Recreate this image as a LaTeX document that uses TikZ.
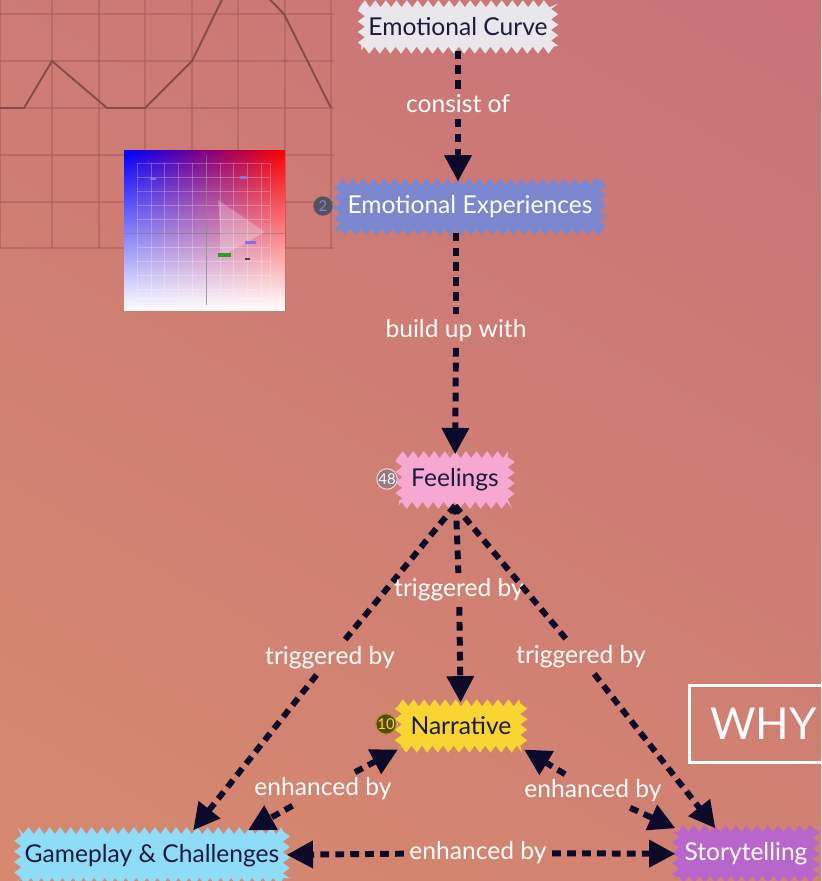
\documentclass[tikz,border=0pt]{standalone}
\usepackage{fontspec}
\setmainfont{Lato}
\usetikzlibrary{arrows.meta,decorations.pathmorphing,fadings}

\definecolor{bgtop}{HTML}{C87279}
\definecolor{bgbot}{HTML}{D78A6E}
\definecolor{navy}{HTML}{0C0A2A}
\definecolor{ink}{HTML}{1C1B3D}
\definecolor{curvecol}{HTML}{E9E6EC}
\definecolor{expcol}{HTML}{7B88CF}
\definecolor{feelcol}{HTML}{F6A8D2}
\definecolor{narcol}{HTML}{F8D531}
\definecolor{gamecol}{HTML}{8EDCF5}
\definecolor{storycol}{HTML}{B966CC}
\definecolor{gridcol}{HTML}{A9605C}
\definecolor{plotcol}{HTML}{874C4A}

\tikzfading[name=fadedown, top color=transparent!100, middle color=transparent!65, bottom color=transparent!0]

\tikzset{
    topic/.style={decorate, decoration={zigzag, segment length=6pt, amplitude=2pt},
        inner xsep=6pt, inner ysep=8pt, font=\fontsize{14}{16}\selectfont},
    link/.style={draw=navy, line width=3.4pt, dash pattern=on 5pt off 3.5pt},
    tip/.style={-{Triangle[width=15pt,length=15pt]}},
    lbl/.style={text=white, inner sep=3pt, font=\fontsize{14}{16}\selectfont},
    badge/.style={circle, inner sep=0pt, minimum size=11pt, line width=0.6pt, font=\fontsize{8.5}{9}\selectfont}
}

\begin{document}
\begin{tikzpicture}[x=0.02cm, y=-0.02cm]
    % Page
    \useasboundingbox (0,0) rectangle (821,881);
    \clip (0,0) rectangle (821,881);
    \shade[top color=bgtop, bottom color=bgbot, shading angle=-30] (-200,-200) rectangle (1021,1081);

    % Curve chart behind
    \foreach \x in {0,52,99,145,192,238,285,331}
        \draw[gridcol, opacity=0.6, line width=0.8pt] (\x,0) -- (\x,248);
    \foreach \y in {14,61,108,155,202,248}
        \draw[gridcol, opacity=0.6, line width=0.8pt] (0,\y) -- (334,\y);
    \draw[plotcol, line width=1.1pt] (0,108) -- (24,108) -- (52,61) -- (107,108) -- (145,108)
        -- (192,61) -- (238,-33) -- (284,14) -- (331,108);

    % Mood chart picture
    \shade[left color=blue, right color=red] (124,151) rectangle (285,311);
    \fill[white, path fading=fadedown] (124,151) rectangle (285,311);
    \foreach \x in {137,151,164,178,192,206,220,233,247,261,270}
        \draw[white, opacity=0.25, line width=0.3pt] (\x,163) -- (\x,298);
    \foreach \y in {163,177,191,205,219,247,261,275,289,298}
        \draw[white, opacity=0.25, line width=0.3pt] (137,\y) -- (270,\y);
    \draw[gray, opacity=0.7, line width=0.4pt] (124,233) -- (285,233);
    \draw[gray, opacity=0.7, line width=0.4pt] (206,155) -- (206,305);
    \fill[white, opacity=0.25] (218,200) -- (265,232) -- (222,256) -- cycle;
    \fill[green!60!black, opacity=0.8] (218,253) rectangle (231,257);
    \fill[blue!60, opacity=0.8] (245,241) rectangle (256,244);
    \fill[blue!50, opacity=0.8] (240,176) rectangle (247,179);
    \fill[blue!50, opacity=0.8] (150,178) rectangle (156,180);
    \fill[navy, opacity=0.7] (245,258) rectangle (250,260);

    % Topics
    \node[topic, fill=curvecol, text=ink, inner xsep=4pt] (curve) at (458,27) {Emotional Curve};
    \node[topic, fill=expcol, text=white] (exp) at (470,207) {Emotional Experiences};
    \node[topic, fill=feelcol, text=ink, inner xsep=7pt] (feel) at (455,480) {Feelings};
    \node[topic, fill=narcol, text=ink, inner xsep=7pt] (nar) at (461,726) {Narrative};
    \node[topic, fill=gamecol, text=ink, inner xsep=4pt] (game) at (152,856) {Gameplay \& Challenges};
    \node[topic, fill=storycol, text=white, inner xsep=5pt] (story) at (746,854) {Storytelling};

    % Counters
    \node[badge, fill=gray!55!ink, text=expcol] (b2) at (323,206) {2};
    \node[badge, fill=gray!70!bgtop, draw=feelcol!60, text=white] (b48) at (387,479) {48};
    \node[badge, fill=black!65!narcol, draw=narcol!70!black, text=narcol] (b10) at (386,724) {10};
    \draw[expcol, line width=1.5pt] (b2) -- (exp);
    \draw[feelcol, line width=1.5pt] (b48) -- (feel);
    \draw[narcol, line width=1.5pt] (b10) -- (nar);

    % Links
    \node[lbl] (consist) at (458,104) {consist of};
    \draw[link] (curve) -- (consist);
    \draw[link, tip] (consist) -- (exp.north -| consist);

    \node[lbl] (buildup) at (456,331) {build up with};
    \draw[link] (exp.south -| buildup) -- (buildup);
    \draw[link, tip] (buildup) -- (feel);

    \node[lbl] (trigleft) at (330,658) {triggered by};
    \draw[link] (feel.south) -- (trigleft);
    \draw[link, tip] (trigleft) -- (game.32);

    \node[lbl] (trigmid) at (459,590) {triggered by};
    \draw[link] (feel) -- (trigmid);
    \draw[link, tip] (trigmid) -- (nar);

    \node[lbl] (trigright) at (581,657) {triggered by};
    \draw[link] (feel.south) -- (trigright);
    \draw[link, tip] (trigright) -- (story.140);

    \node[lbl] (enhleft) at (323,789) {enhanced by};
    \draw[link, tip] (enhleft) -- (game.15);
    \draw[link, tip] (enhleft) -- (nar.south west);

    \node[lbl] (enhright) at (593,791) {enhanced by};
    \draw[link, tip] (enhright) -- (nar.south east);
    \draw[link, tip] (enhright) -- (story.north west);

    \node[lbl] (enhbottom) at (478,853) {enhanced by};
    \draw[link, tip] (enhbottom) -- (game);
    \draw[link, tip] (enhbottom) -- (story);

    % Side note
    \node[draw=white, line width=1.5pt, text=white, anchor=west, minimum height=1.54cm,
        inner xsep=12pt, font=\fontsize{25}{28}\selectfont] (why) at (688,724) {WHY};
\end{tikzpicture}
\end{document}
